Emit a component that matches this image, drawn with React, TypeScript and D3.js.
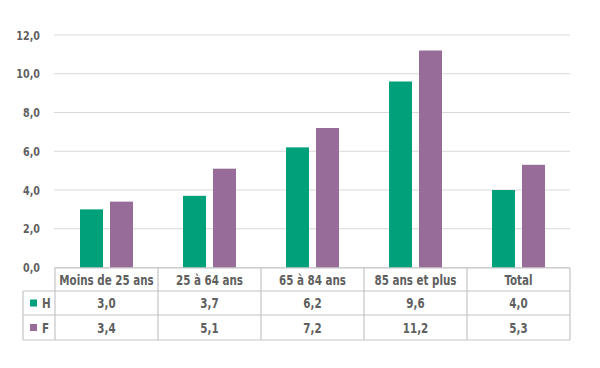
import React, { useRef, useEffect } from "react";
import * as d3 from "d3";

const categories = ["Moins de 25 ans", "25 à 64 ans", "65 à 84 ans", "85 ans et plus", "Total"];
const seriesNames = ["H", "F"];
const valuesH = [3.0, 3.7, 6.2, 9.6, 4.0];
const valuesF = [3.4, 5.1, 7.2, 11.2, 5.3];
const yTicks = [0, 2, 4, 6, 8, 10, 12];

const colors: Record<string, string> = { H: "#00A07B", F: "#976C99" };
const fmt = (v: number) => d3.format(".1f")(v).replace(".", ",");

const App = () => {
  const ref = useRef<SVGSVGElement>(null);

  useEffect(() => {
    const svg = d3.select(ref.current);
    svg.selectAll("*").remove();

    const font = "'DejaVu Sans Condensed', 'DejaVu Sans', sans-serif";
    const textColor = "#5f5f5f";
    const squeeze = 0.82; // narrow the font to look like the condensed original

    const x0 = d3.scaleBand().domain(categories).range([55, 570]);
    const x1 = d3.scaleBand().domain(seriesNames).range([25, 78]).paddingInner(7 / 30);
    const y = d3.scaleLinear().domain([0, 12]).range([267.5, 35]);

    // gridlines
    svg
      .append("g")
      .selectAll("line")
      .data(yTicks)
      .enter()
      .append("line")
      .attr("x1", 54)
      .attr("x2", 570)
      .attr("y1", (d) => y(d))
      .attr("y2", (d) => y(d))
      .attr("stroke", "#d9d9d9")
      .attr("stroke-width", 1);

    const txt = (sel: any, size: number, anchor = "middle") =>
      sel
        .attr("text-anchor", anchor)
        .attr("dy", "0.36em")
        .style("font-family", font)
        .style("font-weight", "bold")
        .style("font-size", size + "px")
        .style("fill", textColor);

    const at = (x: number, yy: number) => `translate(${x},${yy}) scale(${squeeze},1)`;

    // y labels
    svg
      .append("g")
      .selectAll("text")
      .data(yTicks)
      .enter()
      .append("text")
      .attr("transform", (d) => at(40, y(d)))
      .call(txt, 13, "end")
      .text((d) => fmt(d));

    const series = [
      { key: "H", values: valuesH },
      { key: "F", values: valuesF },
    ];

    // bars
    const groups = svg
      .append("g")
      .selectAll("g")
      .data(series)
      .enter()
      .append("g")
      .attr("fill", (s) => colors[s.key]);

    groups
      .selectAll("rect")
      .data((s) => s.values.map((v, i) => ({ key: s.key, cat: categories[i], v })))
      .enter()
      .append("rect")
      .attr("x", (d) => (x0(d.cat) as number) + (x1(d.key) as number))
      .attr("y", (d) => y(d.v))
      .attr("width", x1.bandwidth())
      .attr("height", (d) => y(0) - y(d.v));

    // data table
    const rowTops = [268, 291, 315, 340];
    const left = 23;
    const colLeft = 55;
    const right = 570;
    const table = svg.append("g").attr("stroke", "#c4c4c4").attr("stroke-width", 1.2);

    table.append("line").attr("x1", colLeft).attr("x2", right).attr("y1", rowTops[0]).attr("y2", rowTops[0]);
    rowTops.slice(1).forEach((ry) => {
      table.append("line").attr("x1", left).attr("x2", right).attr("y1", ry).attr("y2", ry);
    });
    table.append("line").attr("x1", left).attr("x2", left).attr("y1", rowTops[1]).attr("y2", rowTops[3]);
    const bounds = categories.map((c) => x0(c) as number).concat([right]);
    bounds.forEach((bx) => {
      table.append("line").attr("x1", bx).attr("x2", bx).attr("y1", rowTops[0]).attr("y2", rowTops[3]);
    });

    svg
      .append("g")
      .selectAll("text")
      .data(categories)
      .enter()
      .append("text")
      .attr("transform", (c) => at((x0(c) as number) + x0.bandwidth() / 2, (rowTops[0] + rowTops[1]) / 2))
      .call(txt, 14)
      .text((c) => c);

    series.forEach((s, si) => {
      const cy = (rowTops[si + 1] + rowTops[si + 2]) / 2;
      svg
        .append("rect")
        .attr("x", 30)
        .attr("y", cy - 3.5)
        .attr("width", 7)
        .attr("height", 7)
        .attr("fill", colors[s.key]);
      svg
        .append("text")
        .attr("transform", at(42, cy))
        .call(txt, 14, "start")
        .text(s.key);
      svg
        .append("g")
        .selectAll("text")
        .data(s.values)
        .enter()
        .append("text")
        .attr("transform", (_, i) => at((x0(categories[i]) as number) + x0.bandwidth() / 2, cy))
        .call(txt, 14)
        .text((v) => fmt(v));
    });
  }, []);

  return (
    <svg
      ref={ref}
      width={600}
      height={368}
      style={{ position: "absolute", left: 0, top: 0, background: "#fff" }}
    ></svg>
  );
};

export default App;
